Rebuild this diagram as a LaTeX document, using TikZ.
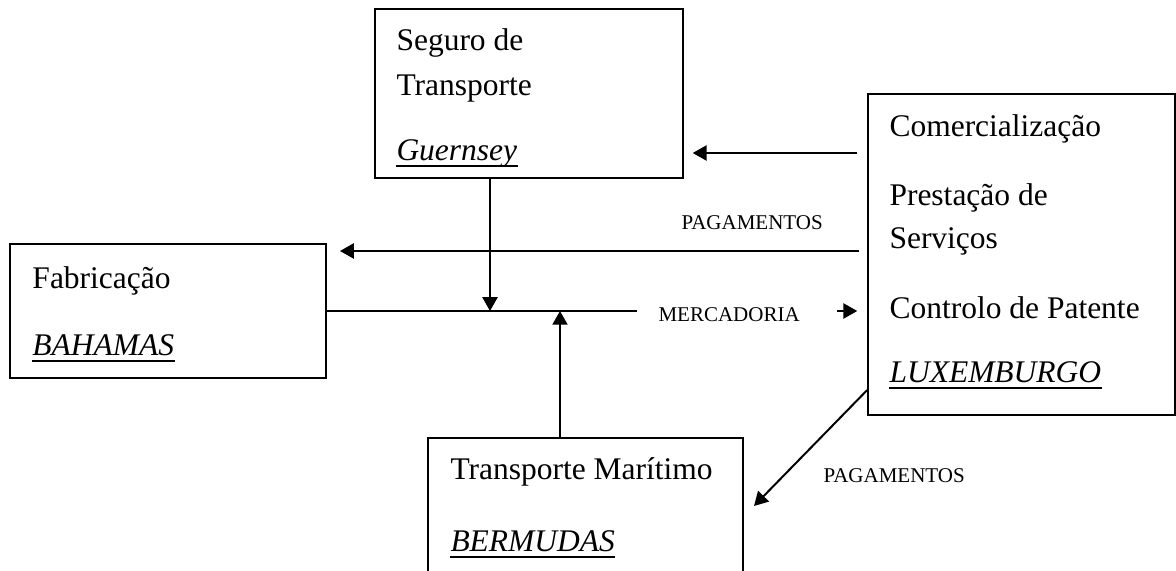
\documentclass[tikz,border=0pt]{standalone}
\usepackage{fontspec}
\setmainfont{Liberation Serif}
\usetikzlibrary{arrows.meta}
\tikzset{
  box/.style={draw, line width=0.6pt, inner sep=0pt},
  txt/.style={inner sep=0pt, anchor=base west, font=\fontsize{12.6}{15}\selectfont},
  small/.style={inner sep=0pt, anchor=base west, font=\fontsize{8.4}{10}\selectfont},
  flow/.style={line width=0.8pt},
  arr/.style={line width=0.8pt, -{Triangle[length=5.5pt,width=6pt]}},
  uline/.style={line width=0.7pt}
}
\begin{document}
\begin{tikzpicture}[x=0.4pt, y=-0.4pt]
    \useasboundingbox (0,0) rectangle (1176,571);
    \clip (0,0) rectangle (1176,571);
    \node[box, minimum width=123.2pt, minimum height=67.6pt] (seguro) at (529,93.5) {};
    \node[box, minimum width=122.8pt, minimum height=128.4pt] (comm) at (1021.5,254.5) {};
    \node[box, minimum width=126.4pt, minimum height=53.6pt] (fab) at (168,311) {};
    \node[box, minimum width=126pt, minimum height=64.8pt] (marit) at (585.5,519) {};
    \node[txt] (seg1) at (396,51) {Seguro de};
    \node[txt] (seg2) at (396,96) {Transporte};
    \node[txt] (guern) at (396,161) {\textit{Guernsey}};
    \node[txt] (com1) at (889,137) {Comercialização};
    \node[txt] (com2) at (889,206) {Prestação de};
    \node[txt] (com3) at (889,249) {Serviços};
    \node[txt] (com4) at (889,319) {Controlo de Patente};
    \node[txt] (luxem) at (889,383) {\textit{LUXEMBURGO}};
    \node[txt] (fab1) at (32,289) {Fabricação};
    \node[txt] (baham) at (32,356) {\textit{BAHAMAS}};
    \node[txt] (mar1) at (450,480) {Transporte Marítimo};
    \node[txt] (bermu) at (450,552) {\textit{BERMUDAS}};
    \foreach \n in {guern, luxem, baham, bermu}
      \draw[uline] ([yshift=-2pt]\n.base west) -- ([yshift=-2pt]\n.base east);
    \node[small] (pay1) at (681,230) {PAGAMENTOS};
    \node[small] (merc) at (658,322) {MERCADORIA};
    \node[small] (pay2) at (823,483) {PAGAMENTOS};
    \coordinate (paytip) at (340,251);
    \coordinate (mend) at (637,311);
    \coordinate (drop) at (490,311);
    \coordinate (lift) at (560,311);
    \coordinate (marttip) at (754,506);
    \draw[arr, shorten <=4pt, shorten >=3.6pt] (comm.west |- 0,153) -- (seguro.east |- 0,153);
    \draw[arr, shorten <=3.2pt] (comm.west |- 0,251) -- (paytip);
    \draw[flow] (fab.east) -- (mend);
    \draw[arr] (seguro.south -| drop) -- (drop);
    \draw[arr] (marit.north -| lift) -- (lift);
    \draw[arr, shorten >=4pt] (837,311) -- (comm.west |- 0,311);
    \draw[arr] (comm.west |- 0,390) -- (marttip);
\end{tikzpicture}
\end{document}
